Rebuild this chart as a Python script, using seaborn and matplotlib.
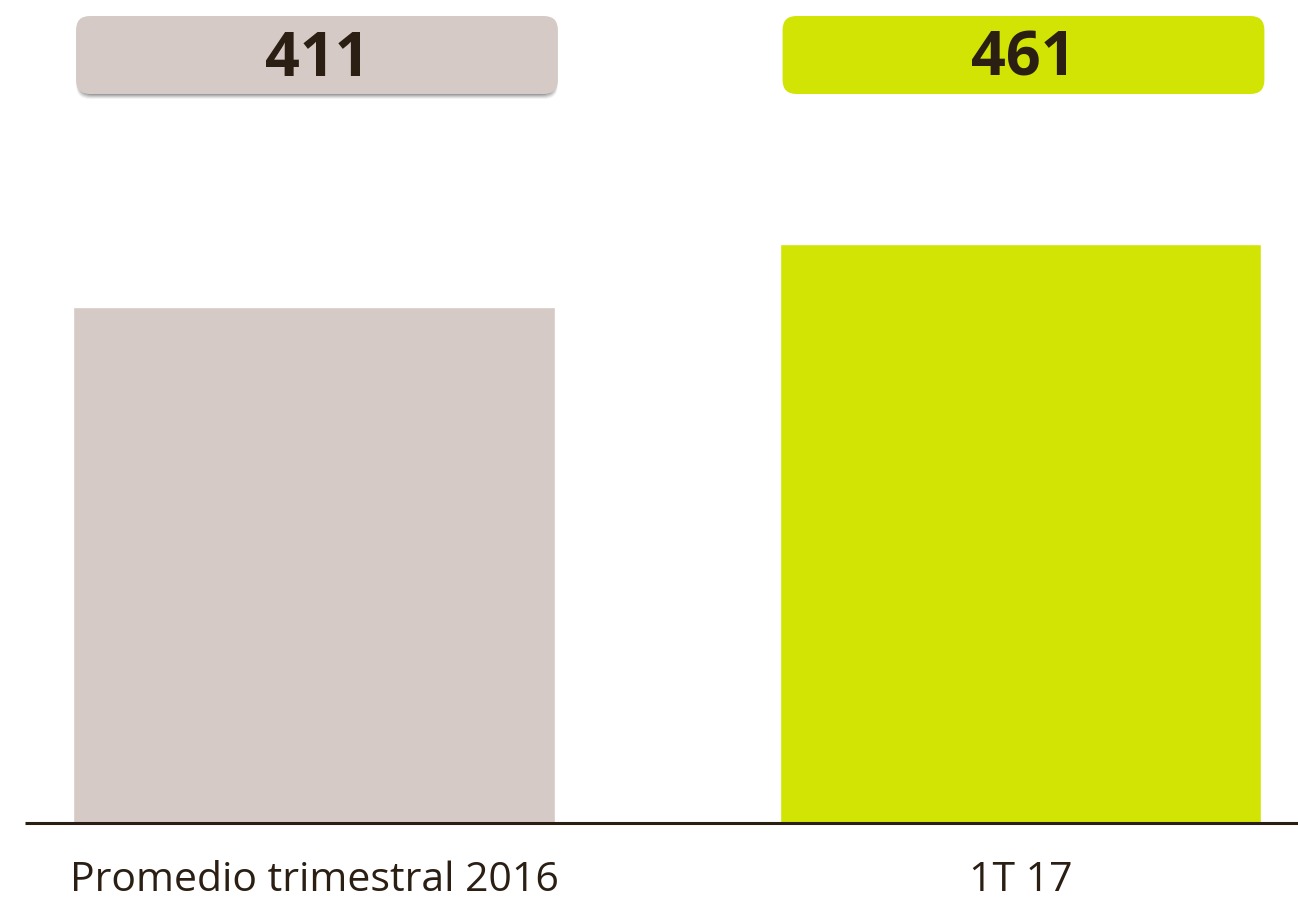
import matplotlib
matplotlib.use("Agg")
import matplotlib.pyplot as plt
from matplotlib.patches import FancyBboxPatch
from matplotlib.transforms import IdentityTransform
import seaborn as sns
import pandas as pd

categories = ["Promedio trimestral 2016", "1T 17"]
values = [411, 461]
labels = ["411", "461"]
colors = ["#d5cac5", "#d2e403"]

TEXT = "#2b1f14"
W, H, DPI = 1298, 905, 100

sns.set_theme(style="white")
plt.rcParams["font.family"] = ["Open Sans", "DejaVu Sans"]

df = pd.DataFrame({"cat": categories, "val": values})

fig = plt.figure(figsize=(W / DPI, H / DPI), dpi=DPI)
base_px = 823  # baseline, pixels from top
ax = fig.add_axes([0, (H - base_px) / H, 1, base_px / H])

sns.barplot(data=df, x="cat", y="val", hue="cat", palette=colors,
            legend=False, width=0.682, ax=ax, saturation=1)

ax.set_xlim(-0.4444, 1.3928)
ax.set_ylim(0, 655)
for s in ax.spines.values():
    s.set_visible(False)
ax.set_yticks([])
ax.set_xlabel("")
ax.set_ylabel("")
ax.tick_params(axis="x", length=0, pad=27)
for t in ax.get_xticklabels():
    t.set_fontsize(29.5)
    t.set_color(TEXT)

# baseline
ax.plot([-0.4444 + 25 / 706.5, 1.3928], [0, 0], color=TEXT, lw=2.2,
        clip_on=False, solid_capstyle="butt")

# value badges above each bar
fig.canvas.draw()
box_y0, box_y1 = H - 94, H - 16
for i, (bar, lab, col) in enumerate(zip(ax.patches, labels, colors)):
    x0 = bar.get_x()
    x1 = x0 + bar.get_width()
    (dx0, _), (dx1, _) = ax.transData.transform([(x0, 0), (x1, 0)])
    dx0 += 3
    dx1 += 3
    if i == 0:
        for k, a in enumerate([0.05, 0.07, 0.09, 0.11, 0.13]):
            off = 5 - k
            sh = FancyBboxPatch((dx0 + k * 0.6, box_y0 - off),
                                dx1 - dx0 - k * 1.2, box_y1 - box_y0,
                                boxstyle="round,pad=0,rounding_size=14",
                                transform=IdentityTransform(), fc="#000000",
                                ec="none", alpha=a)
            fig.add_artist(sh)
    patch = FancyBboxPatch((dx0, box_y0), dx1 - dx0, box_y1 - box_y0,
                           boxstyle="round,pad=0,rounding_size=14",
                           transform=IdentityTransform(), fc=col, ec="none")
    fig.add_artist(patch)
    fig.text((dx0 + dx1) / 2 / W, (box_y0 + box_y1) / 2 / H - 0.006, lab,
             ha="center", va="center", fontsize=44, fontweight="bold",
             color=TEXT)

fig.savefig("out.png", dpi=DPI, facecolor="white")
